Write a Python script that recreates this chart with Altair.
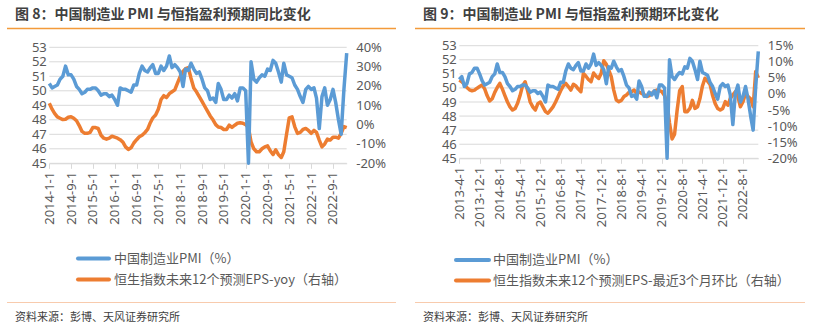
import altair as alt
import pandas as pd

BLUE = "#5B9BD5"
ORANGE = "#ED7D31"
GRID = "#D9D9D9"
LABEL = "#595959"
FONT = "Noto Sans"
CJK = "Noto Sans CJK SC"

# ---------------- data ----------------
# China manufacturing PMI, 2013-04 .. 2023-02
pmi_months = pd.date_range("2013-04-01", "2023-02-01", freq="MS")
pmi = [
    50.6, 50.8, 50.1, 50.3, 51.0, 51.1, 51.4, 51.4, 51.0,
    50.5, 50.2, 50.3, 50.4, 50.8, 51.0, 51.7, 51.1, 51.1, 50.8, 50.3, 50.1,
    49.8, 49.9, 50.1, 50.1, 50.2, 50.2, 50.0, 49.7, 49.8, 49.8, 49.6, 49.7,
    49.4, 49.0, 50.2, 50.1, 50.1, 50.0, 49.9, 50.4, 50.4, 51.2, 51.7, 51.4,
    51.3, 51.6, 51.8, 51.2, 51.2, 51.7, 51.4, 51.7, 52.4, 51.6, 51.8, 51.6,
    51.3, 50.3, 51.5, 51.4, 51.9, 51.5, 51.2, 51.3, 50.8, 50.2, 50.0, 49.4,
    49.5, 49.2, 50.5, 50.1, 49.4, 49.4, 49.7, 49.5, 49.8, 49.3, 50.2, 50.2,
    50.0, 35.7, 52.0, 50.8, 50.6, 50.9, 51.1, 51.0, 51.5, 51.4, 52.1, 51.9,
    51.3, 50.6, 51.9, 51.1, 51.0, 50.9, 50.4, 50.1, 49.6, 49.2, 50.1, 50.3,
    50.1, 50.2, 49.5, 47.4, 49.6, 50.2, 49.0, 49.4, 50.1, 49.2, 48.0, 47.0,
    50.1, 52.6,
]
# Hang Seng next-12m EPS, last-3-month change (%), 2013-04 .. 2023-02
eps_mom = [
    4.3, 3.8, 3.0, 2.0, 1.3, 1.0, 1.2, 1.8, 2.3, 2.8, 1.5, -0.5,
    -2.2, -1.5, 0.5, 2.0, 3.3, 1.5, -0.5, -2.5, -4.0, -5.0, -4.5, -3.0,
    -0.5, 2.5, 3.8, 1.0, -2.5, -4.0, -5.0, -3.0, -2.5, -4.0, -5.5, -6.0,
    -5.0, -4.0, -2.5, -0.8, 1.0, 2.5, 3.3, 2.3, 1.2, 3.0, 2.5, 1.5,
    0.7, 6.4, 5.5, 4.5, 3.8, 6.5, 5.5, 4.8, 6.4, 10.3, 9.2, 7.5,
    5.4, 1.2, -1.9, -2.4, -2.0, -0.8, -0.3, 0.5, 0.7, 1.2, 0.2, 0.6,
    0.2, -0.2, -0.8, -0.5, 0.2, 0.8, 1.2, 1.0, 0.7, -0.5, -3.0, -9.0,
    -14.0, -12.5, -5.0, 1.0, 2.3, -5.5, -5.5, -4.5, -2.0, -4.5, -4.0, -1.5,
    2.5, 4.9, 4.0, 3.0, -0.5, -3.0, -4.5, -5.0, -4.5, -2.4, -3.5, -1.4,
    -0.3, 0.7, -0.8, -4.0, -2.4, 0.2, -0.8, -1.5, -4.0, 7.0, 5.0,
]
# Hang Seng next-12m EPS yoy (%), 2014-01 .. 2023-02
yoy_months = pd.date_range("2014-01-01", "2023-02-01", freq="MS")
eps_yoy = [
    11.0, 8.0, 5.8, 4.0, 3.3, 2.6, 2.8, 3.8, 4.1, 3.3, 2.0, -0.5,
    -3.5, -4.5, -4.5, -4.0, -1.5, -1.5, -2.0, -5.5, -7.0, -7.5, -7.0, -6.0,
    -6.5, -7.0, -7.8, -9.0, -11.5, -12.8, -12.0, -9.5, -7.8, -6.3, -5.5, -4.2,
    -2.5, 1.0, 3.5, 5.0, 8.0, 13.0, 15.0, 14.0, 16.0, 17.0, 18.0, 21.5,
    25.0, 27.5, 29.0, 29.5, 24.0, 19.0, 17.0, 14.5, 12.0, 9.5, 7.0, 4.5,
    2.5, 0.0, -1.2, -1.5, -2.5, -2.5, -0.3, -1.4, -0.3, 0.7, 1.0, 0.7,
    0.0, -1.5, -9.0, -12.5, -14.0, -14.0, -12.5, -11.5, -11.0, -13.5, -15.5, -13.0,
    -15.5, -17.0, -14.0, -5.0, 3.5, 4.0, -1.0, -4.5, -4.0, -2.5, -2.0, -3.0,
    -4.5, -3.0, -4.0, -8.0, -11.5, -10.0, -7.5, -8.0, -6.5, -6.5, -7.0, -4.5,
    -1.0, -1.5,
]
pmi_ticks = [45, 46, 47, 48, 49, 50, 51, 52, 53]
yoy_ticks = [-20, -10, 0, 10, 20, 30, 40]
mom_ticks = [-20, -15, -10, -5, 0, 5, 10, 15]
left_dates = pd.date_range("2014-01-01", periods=14, freq="8MS")
right_dates = pd.date_range("2013-04-01", periods=15, freq="8MS")

df_right = pd.DataFrame({"date": pmi_months, "pmi": pmi, "eps": eps_mom})
df_left = pd.DataFrame({"date": yoy_months, "eps": eps_yoy})
df_left["pmi"] = df_right.set_index("date").loc[yoy_months, "pmi"].values

W, H = 819, 334
one = pd.DataFrame({"a": [0]})


def dt(ts):
    return alt.DateTime(year=ts.year, month=ts.month, date=ts.day)


def txt(x, y, s, size=13, bold=False, color=LABEL, font=CJK):
    return alt.Chart(one).mark_text(
        align="left", baseline="middle", font=font, fontSize=size,
        fontWeight="bold" if bold else "normal", color=color,
    ).encode(x=alt.value(x), y=alt.value(y), text=alt.value(s))


def hline(x1, x2, y, color, w, cap="butt"):
    return alt.Chart(one).mark_rule(color=color, strokeWidth=w, strokeCap=cap).encode(
        x=alt.value(x1), x2=alt.value(x2), y=alt.value(y))


def panel(df, dates, x0, x1, ytop, ybot, eps_ticks, eps_dom, rlabpad):
    xscale = alt.Scale(domain=[dt(df["date"].iloc[0]), dt(df["date"].iloc[-1])], range=[x0, x1])
    yl = alt.Scale(domain=[45, 53], range=[ybot, ytop], clamp=True, zero=False, nice=False)
    yr = alt.Scale(domain=eps_dom, range=[ybot, ytop], clamp=True, zero=False, nice=False)
    grid = alt.Chart(pd.DataFrame({"v": pmi_ticks})).mark_rule(color=GRID, strokeWidth=1).encode(
        y=alt.Y("v:Q", scale=yl, axis=None), x=alt.value(x0), x2=alt.value(x1))
    xaxis = alt.Axis(
        orient="bottom", offset=-(H - ybot), values=[dt(d) for d in dates],
        format="%Y-%-m-%-d", formatType="time", labelAngle=-90, labelFlush=False,
        labelOverlap=False, labelFont=FONT, labelFontSize=13, labelColor=LABEL,
        labelPadding=3, domain=True, domainColor=GRID, ticks=True, tickColor=GRID,
        tickSize=5, grid=False, title=None)
    laxis = alt.Axis(
        orient="left", offset=-x0, values=pmi_ticks, labelFont=FONT, labelFontSize=13,
        labelColor=LABEL, labelPadding=3, domain=False, ticks=False, grid=False, title=None)
    raxis = alt.Axis(
        orient="right", offset=-(W - x1), values=eps_ticks, labelExpr="datum.value + '%'",
        labelFont=FONT, labelFontSize=13, labelColor=LABEL, labelPadding=rlabpad,
        domain=False, ticks=False, grid=False, title=None)
    blue = alt.Chart(df).mark_line(color=BLUE, strokeWidth=3.5, strokeJoin="round").encode(
        x=alt.X("date:T", scale=xscale, axis=xaxis),
        y=alt.Y("pmi:Q", scale=yl, axis=laxis))
    orange = alt.Chart(df).mark_line(color=ORANGE, strokeWidth=3.5, strokeJoin="round").encode(
        x=alt.X("date:T", scale=xscale, axis=None),
        y=alt.Y("eps:Q", scale=yr, axis=raxis))
    return [grid, orange, blue]


layers = []
layers += panel(df_left, left_dates, 49.3, 346.7, 47.3, 163.3, yoy_ticks, [-20, 40], 9)
layers += panel(df_right, right_dates, 459.3, 758.3, 45.7, 158.3, mom_ticks, [-20, 15], 9)

TITLE = "#404040"
layers += [
    txt(15, 15, "图 8：中国制造业 PMI 与恒指盈利预期同比变化", 14, True, TITLE),
    txt(423, 15, "图 9：中国制造业 PMI 与恒指盈利预期环比变化", 14, True, TITLE),
    hline(7, 396, 28.5, "#F39A3A", 1.5),
    hline(415, 805, 28.5, "#F39A3A", 1.5),
    hline(78, 109, 258.5, BLUE, 4, "round"),
    hline(78, 109, 279.5, ORANGE, 4, "round"),
    txt(114, 258.5, "中国制造业PMI（%）", 13),
    txt(114, 279.5, "恒生指数未来12个预测EPS-yoy（右轴）", 13),
    hline(456, 489, 260, BLUE, 4, "round"),
    hline(456, 489, 280.5, ORANGE, 4, "round"),
    txt(493, 260, "中国制造业PMI（%）", 13),
    txt(493, 280.5, "恒生指数未来12个预测EPS-最近3个月环比（右轴）", 13),
    hline(7, 396, 302.5, "#F8CBAD", 1),
    hline(415, 805, 302.5, "#F8CBAD", 1),
    txt(15, 318, "资料来源：彭博、天风证券研究所", 11, False, TITLE),
    txt(423, 318, "资料来源：彭博、天风证券研究所", 11, False, TITLE),
]

chart = alt.layer(*layers).resolve_scale(x="independent", y="independent").properties(
    width=W, height=H, autosize=alt.AutoSizeParams(type="none"), padding=0,
    background="white",
).configure_view(stroke=None)

chart.save("out.html", embed_options={"renderer": "svg", "actions": False})
